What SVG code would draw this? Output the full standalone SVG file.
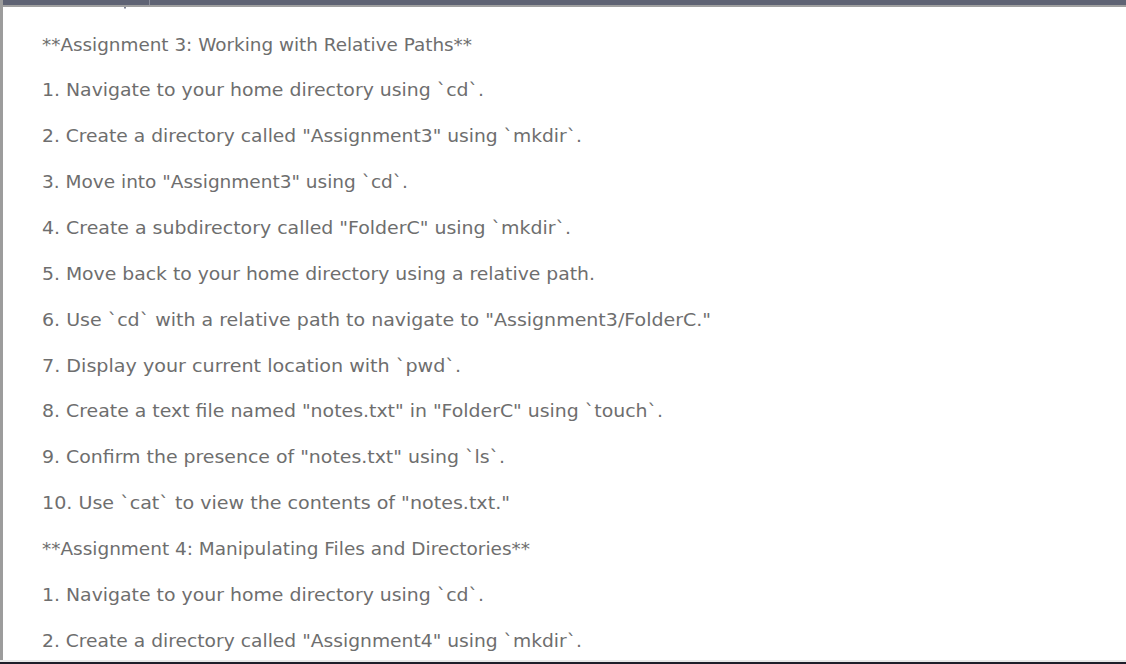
<svg xmlns="http://www.w3.org/2000/svg" width="1126" height="664" viewBox="0 0 1126 664">
<style>
.t{font-family:"DejaVu Sans","Liberation Sans",sans-serif;font-size:18.5px;fill:#6e6e6e}
</style>
<rect x="0" y="0" width="1126" height="664" fill="#ffffff"/>
<rect x="0" y="0" width="1126" height="5" fill="#5f6374"/>
<rect x="149" y="0" width="1" height="5" fill="#8a8d9a"/>
<rect x="0" y="5" width="1126" height="2" fill="#a0a0a0"/>
<rect x="0" y="0" width="3" height="662" fill="#9c9c9c"/>
<rect x="124" y="7" width="2" height="1.5" fill="#7a7f90"/>
<rect x="0" y="660" width="1126" height="2" fill="#e8e8e8"/>
<rect x="0" y="662" width="1126" height="2" fill="#1e1e2a"/>
<g id="text">
<text class="t" x="42" y="50.5" textLength="430" lengthAdjust="spacingAndGlyphs">**Assignment 3: Working with Relative Paths**</text>
<text class="t" x="42" y="96.4" textLength="442" lengthAdjust="spacingAndGlyphs">1. Navigate to your home directory using `cd`.</text>
<text class="t" x="42" y="142.2" textLength="540" lengthAdjust="spacingAndGlyphs">2. Create a directory called "Assignment3" using `mkdir`.</text>
<text class="t" x="42" y="188.1" textLength="366" lengthAdjust="spacingAndGlyphs">3. Move into "Assignment3" using `cd`.</text>
<text class="t" x="42" y="233.9" textLength="529" lengthAdjust="spacingAndGlyphs">4. Create a subdirectory called "FolderC" using `mkdir`.</text>
<text class="t" x="42" y="279.8" textLength="553" lengthAdjust="spacingAndGlyphs">5. Move back to your home directory using a relative path.</text>
<text class="t" x="42" y="325.6" textLength="669" lengthAdjust="spacingAndGlyphs">6. Use `cd` with a relative path to navigate to "Assignment3/FolderC."</text>
<text class="t" x="42" y="371.5" textLength="419" lengthAdjust="spacingAndGlyphs">7. Display your current location with `pwd`.</text>
<text class="t" x="42" y="417.3" textLength="621" lengthAdjust="spacingAndGlyphs">8. Create a text file named "notes.txt" in "FolderC" using `touch`.</text>
<text class="t" x="42" y="463.2" textLength="463" lengthAdjust="spacingAndGlyphs">9. Confirm the presence of "notes.txt" using `ls`.</text>
<text class="t" x="42" y="509" textLength="468" lengthAdjust="spacingAndGlyphs">10. Use `cat` to view the contents of "notes.txt."</text>
<text class="t" x="42" y="554.9" textLength="488" lengthAdjust="spacingAndGlyphs">**Assignment 4: Manipulating Files and Directories**</text>
<text class="t" x="42" y="600.7" textLength="442" lengthAdjust="spacingAndGlyphs">1. Navigate to your home directory using `cd`.</text>
<text class="t" x="42" y="646.5" textLength="540" lengthAdjust="spacingAndGlyphs">2. Create a directory called "Assignment4" using `mkdir`.</text>
</g>
</svg>
